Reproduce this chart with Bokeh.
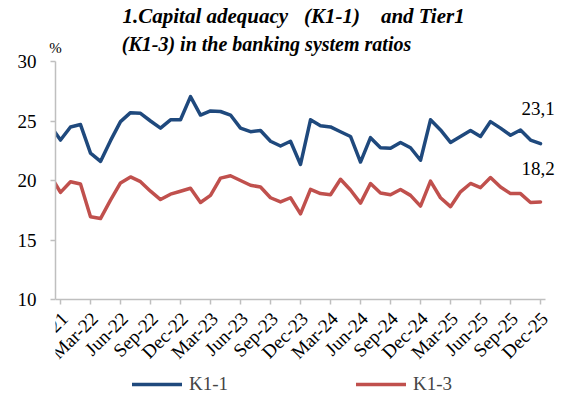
import math
from bokeh.plotting import figure
from bokeh.models import Range1d, FixedTicker, Legend, LegendItem, Title, LinearAxis
from bokeh.core.properties import value
from bokeh.embed import file_html
from bokeh.resources import INLINE

# Months: Nov-21 (clipped at the axis start) .. Dec-25
months = ["Nov-21", "Dec-21", "Jan-22", "Feb-22", "Mar-22", "Apr-22", "May-22", "Jun-22", "Jul-22",
          "Aug-22", "Sep-22", "Oct-22", "Nov-22", "Dec-22", "Jan-23", "Feb-23", "Mar-23", "Apr-23",
          "May-23", "Jun-23", "Jul-23", "Aug-23", "Sep-23", "Oct-23", "Nov-23", "Dec-23", "Jan-24",
          "Feb-24", "Mar-24", "Apr-24", "May-24", "Jun-24", "Jul-24", "Aug-24", "Sep-24", "Oct-24",
          "Nov-24", "Dec-24", "Jan-25", "Feb-25", "Mar-25", "Apr-25", "May-25", "Jun-25", "Jul-25",
          "Aug-25", "Sep-25", "Oct-25", "Nov-25", "Dec-25"]

k1_1 = [24.6, 23.4, 24.5, 24.7, 22.3, 21.6, 23.35, 24.95, 25.7, 25.65, 25.0,
        24.4, 25.1, 25.1, 27.05, 25.5, 25.85, 25.8, 25.5, 24.4, 24.1,
        24.2, 23.3, 22.9, 23.3, 21.35, 25.1, 24.6, 24.5, 24.1, 23.7,
        21.55, 23.6, 22.75, 22.7, 23.2, 22.75, 21.7, 25.1, 24.25, 23.2,
        23.7, 24.2, 23.7, 24.95, 24.4, 23.8, 24.25, 23.4, 23.1]

k1_3 = [20.4, 19.0, 19.9, 19.7, 16.95, 16.8, 18.35, 19.8, 20.3, 19.9, 19.1,
        18.4, 18.85, 19.1, 19.35, 18.15, 18.75, 20.2, 20.4, 20.0, 19.6,
        19.45, 18.55, 18.2, 18.55, 17.2, 19.25, 18.9, 18.8, 20.1, 19.2,
        18.1, 19.75, 18.95, 18.8, 19.25, 18.75, 17.85, 19.95, 18.55, 17.8,
        19.05, 19.75, 19.4, 20.25, 19.45, 18.9, 18.9, 18.15, 18.2]

y_ticks = [10, 15, 20, 25, 30]
tick_every = 3
title_1 = "1.Capital adequacy\u00a0\u00a0\u00a0(K1-1)\u00a0\u00a0\u00a0\u00a0and Tier1"
title_2 = "(K1-3) in the banking system ratios"
unit = "%"

x = list(range(-1, len(months) - 1))
tick_pos = [i for i in x if i >= 0 and i % tick_every == 0]
tick_text = [months[i + 1] for i in tick_pos]

BLUE = "#1F497D"
RED = "#C0504D"
SERIF = "Liberation Serif"
AXC = "#BFBFBF"
NB = "\u00a0"

# layout: the value axis spans 238 px; the frame continues below it to hold
# the rotated month labels and the legend
AXIS_PX = 238
EXTRA_PX = 96
y_min, y_max = y_ticks[0], y_ticks[-1]
y_lo = y_min - EXTRA_PX * (y_max - y_min) / AXIS_PX

p = figure(frame_width=502, frame_height=AXIS_PX + EXTRA_PX, output_backend="svg", toolbar_location=None,
           x_range=Range1d(-0.5, 49.7), y_range=Range1d(y_lo, y_max),
           min_border_left=0, min_border_right=0, min_border_top=0, min_border_bottom=0)
p.outline_line_color = None
p.grid.visible = False
p.background_fill_color = "white"
p.border_fill_color = "white"

r1 = p.line(x, k1_1, line_color=BLUE, line_width=3.5, line_join="round", line_cap="round")
r3 = p.line(x, k1_3, line_color=RED, line_width=3.5, line_join="round", line_cap="round")

# end labels
fmt = lambda v: f"{v:.1f}".replace(".", ",")
p.text(x=[x[-1]], y=[k1_1[-1]], text=[fmt(k1_1[-1])], text_font=value(SERIF),
       text_font_size="19px", text_color="black", text_align="left", text_baseline="bottom",
       x_offset=-19, y_offset=-29)
p.text(x=[x[-1]], y=[k1_3[-1]], text=[fmt(k1_3[-1])], text_font=value(SERIF),
       text_font_size="19px", text_color="black", text_align="left", text_baseline="bottom",
       x_offset=-19, y_offset=-27)

# bottom axis: line and ticks fixed at the bottom of the value range (labels drawn separately)
xa = p.xaxis[0]
xa.fixed_location = y_min
xa.bounds = (-0.5, 48.5)
xa.ticker = FixedTicker(ticks=tick_pos)
xa.major_label_text_font_size = "1px"
xa.major_label_text_color = None
xa.major_label_standoff = 0
xa.axis_line_color = AXC
xa.axis_line_width = 1.5
xa.major_tick_line_color = AXC
xa.major_tick_line_width = 1.5
xa.major_tick_in = 0
xa.major_tick_out = 5
xa.minor_tick_line_color = None
xa.minor_tick_out = 0

# rotated month labels under the axis
p.text(x=tick_pos, y=[y_min] * len(tick_pos), text=tick_text, angle=math.pi / 4,
       text_font=value(SERIF), text_font_size="19px", text_color="black",
       text_align="right", text_baseline="middle", x_offset=4, y_offset=16)

# left axis
ya = p.yaxis[0]
ya.bounds = (y_min, y_max)
ya.ticker = FixedTicker(ticks=y_ticks)
ya.major_label_text_font = SERIF
ya.major_label_text_font_size = "19px"
ya.major_label_text_color = "black"
ya.axis_line_color = AXC
ya.axis_line_width = 1.5
ya.major_tick_line_color = AXC
ya.major_tick_line_width = 1.5
ya.major_tick_in = 0
ya.major_tick_out = 5
ya.minor_tick_line_color = None
ya.major_label_standoff = 14
ya.axis_label = NB                  # invisible spacer, widens the left panel
ya.axis_label_text_font_size = "2px"
ya.axis_label_standoff = 9

# top strip: "%" as a tick label at the y-axis position, second title line as axis label
ta = LinearAxis(ticker=FixedTicker(ticks=[-0.5]), major_label_overrides={-0.5: unit},
                bounds=(-0.5, 41.5),
                major_label_text_font=SERIF, major_label_text_font_size="15px",
                major_label_text_color="black", major_label_standoff=6,
                axis_label=title_2 + NB * 16, axis_label_text_font=SERIF,
                axis_label_text_font_style="bold italic",
                axis_label_text_font_size="20px", axis_label_text_color="black", axis_label_standoff=-18,
                axis_line_color=None, major_tick_line_color=None, minor_tick_line_color=None,
                major_tick_in=0, major_tick_out=0, minor_tick_in=0, minor_tick_out=0)
p.add_layout(ta, "above")

t1 = Title(text=title_1, align="left", offset=67,
           text_font=SERIF, text_font_style="bold italic", text_font_size="21px", standoff=3,
           text_color="black")
p.add_layout(t1, "above")

# legend inside the lower strip of the frame
legend = Legend(items=[LegendItem(label="K1-1", renderers=[r1]), LegendItem(label="K1-3", renderers=[r3])],
                orientation="horizontal", location=(77, 0), spacing=128, glyph_width=50,
                label_text_font=SERIF, label_text_font_size="19px", label_standoff=7,
                border_line_color=None, background_fill_alpha=0, margin=0, padding=0)
p.add_layout(legend)

open("out.html", "w").write(file_html(p, INLINE))
